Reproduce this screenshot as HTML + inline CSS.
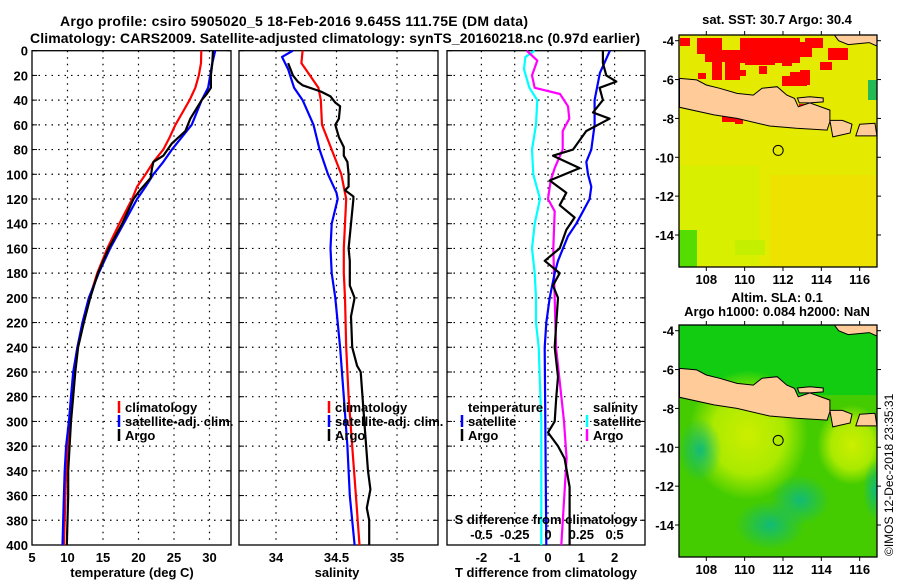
<!DOCTYPE html>
<html><head><meta charset="utf-8">
<style>
html,body{margin:0;padding:0;background:#fff;}
svg{display:block;font-family:"Liberation Sans",sans-serif;}
.t{font-weight:bold;font-size:14px;}
.tk{font-weight:bold;font-size:13px;}
.lg{font-weight:bold;font-size:13px;}
</style></head>
<body>
<svg id="c" width="900" height="580" viewBox="0 0 900 580" xmlns="http://www.w3.org/2000/svg">
<text class="t" x="60" y="26" textLength="468">Argo profile: csiro 5905020_5 18-Feb-2016 9.645S 111.75E (DM data)</text>
<text class="t" x="30" y="43" textLength="610">Climatology: CARS2009. Satellite-adjusted climatology: synTS_20160218.nc (0.97d earlier)</text>
<text class="tk" x="777" y="24" text-anchor="middle">sat. SST: 30.7 Argo: 30.4</text>
<text class="tk" x="777" y="302" text-anchor="middle">Altim. SLA: 0.1</text>
<text class="tk" x="777" y="316" text-anchor="middle">Argo h1000: 0.084 h2000: NaN</text>
<text x="893" y="556" font-size="12" transform="rotate(-90 893 556)">©IMOS 12-Dec-2018 23:35:31</text>
<g id="root"></g>
</svg>
<script>
// ---- data (depth in m) ----
const tempClimDepth=[0,10,20,30,40,50,60,70,80,90,100,110,120,140,160,180,200,220,240,260,280,300,320,340,360,380,400];
const tempClim=[28.85,28.8,28.5,28.0,27.2,26.2,25.2,24.4,23.5,22.1,21.0,19.8,19.1,17.3,15.6,14.2,13.1,12.2,11.4,10.9,10.6,10.3,10.0,9.8,9.7,9.6,9.5];
const tempSatDepth=[0,10,20,30,40,50,60,70,80,90,100,110,120,140,160,180,200,220,240,260,280,300,320,340,360,380,400];
const tempSat=[30.8,30.4,30.1,29.8,28.9,28.2,27.5,26.1,24.7,23.5,22.1,21.0,19.8,17.9,16.0,14.4,13.0,12.1,11.4,10.8,10.5,10.2,9.8,9.6,9.5,9.4,9.3];
const tempArgoDepth=[0,10,20,30,35,40,55,65,75,85,90,95,103,113,120,140,160,180,200,220,240,260,280,300,320,340,360,380,400];
const tempArgo=[30.5,30.4,30.2,30.2,29.6,28.9,27.3,26.6,24.7,23.5,22.1,21.9,21.7,20.2,19.3,17.7,15.8,14.3,13.2,12.3,11.5,11.1,10.8,10.5,10.3,10.1,10.1,10.0,9.9];

const salClimDepth=[0,10,20,30,40,60,80,100,120,160,180,200,240,280,320,360,400];
const salClim=[34.22,34.21,34.28,34.35,34.37,34.38,34.46,34.54,34.58,34.56,34.56,34.57,34.58,34.60,34.63,34.66,34.69];
const salSatDepth=[0,5,15,30,40,60,80,100,115,120,140,160,180,200,220,240,280,320,360,400];
const salSat=[34.14,34.05,34.10,34.15,34.22,34.31,34.36,34.43,34.50,34.51,34.46,34.45,34.46,34.49,34.51,34.53,34.56,34.59,34.61,34.65];
const salArgoDepth=[10,15,20,25,28,33,37,42,45,55,60,70,78,85,90,100,110,113,118,120,140,160,170,190,200,215,240,255,260,300,340,355,370,380,400];
const salArgo=[34.10,34.12,34.14,34.18,34.22,34.37,34.45,34.49,34.53,34.52,34.49,34.52,34.56,34.56,34.59,34.60,34.60,34.57,34.64,34.64,34.62,34.60,34.61,34.61,34.65,34.62,34.63,34.67,34.70,34.73,34.76,34.78,34.75,34.77,34.77];

const dTSatDepth=[0,18,40,60,80,90,100,110,120,130,140,150,160,170,180,200,220,240,300,400];
const dTSat=[1.86,1.56,1.4,1.4,1.3,1.15,1.2,1.3,1.25,1.05,0.85,0.6,0.45,0.3,0.2,0.05,-0.05,-0.1,-0.08,-0.05];
const dTArgoDepth=[0,10,20,25,30,40,50,55,65,80,85,95,105,115,125,135,145,160,170,180,190,200,220,240,264,280,300,309,320,330,353,380,400];
const dTArgo=[1.65,1.65,1.75,2.05,1.55,1.65,1.35,1.85,1.15,0.75,0.15,0.95,0.05,0.55,0.35,0.8,0.55,0.35,-0.1,0.35,0.15,0.3,0.25,0.2,0.3,0.25,0.2,0.0,0.3,0.5,0.65,0.65,0.65];
const dSSatDepth=[0,5,15,30,40,60,80,100,120,140,160,180,200,220,240,300,400];
const dSSat=[-0.1,-0.17,-0.18,-0.14,-0.08,-0.09,-0.12,-0.11,-0.06,-0.1,-0.12,-0.1,-0.09,-0.09,-0.07,-0.05,-0.05];
const dSArgoDepth=[0,8,20,30,35,45,55,65,80,95,105,120,130,160,200,240,260,300,330,400];
const dSArgo=[-0.16,-0.08,-0.12,-0.1,0.09,0.15,0.16,0.11,0.11,0.05,0.02,0.0,0.05,0.04,0.05,0.06,0.08,0.12,0.14,0.1];

const depthTicks=[0,20,40,60,80,100,120,140,160,180,200,220,240,260,280,300,320,340,360,380,400];
const tempTicks=[5,10,15,20,25,30];
const salTicks=[34,34.5,35];
const dTTicks=[-2,-1,0,1,2];
const dSTicks=[-0.5,-0.25,0,0.25,0.5];
const dSTickLabels=["-0.5","-0.25","0","0.25","0.5"];
const lonTicks=[108,110,112,114,116];
const latTicks=[-4,-6,-8,-10,-12,-14];
const argoLon=111.75, argoLat=-9.645;

// ---- helpers ----
const NS="http://www.w3.org/2000/svg";
const root=document.getElementById('root');
function mk(tag,attrs,parent){const e=document.createElementNS(NS,tag);for(const k in attrs)e.setAttribute(k,attrs[k]);(parent||root).appendChild(e);return e;}
const PT=50.7,PB=545;
const yD=d=>PT+(PB-PT)*d/400;
const panels=[
 {x0:32,x1:231,v0:5,v1:5+(231-32)/7.1},
 {x0:239,x1:438,v0:34-(276-239)/121,v1:34+(438-276)/121},
 {x0:447,x1:645,v0:-(548-447)/33.3,v1:(645-548)/33.3}
];
function sx(p,v){return p.x0+(v-p.v0)/(p.v1-p.v0)*(p.x1-p.x0);}
const sS=v=>548+v*133.2;

function frame(p,name,gridVals){
  const g=mk('g',{});
  
  
  depthTicks.forEach(d=>{const y=yD(d);
    if(d>0&&d<400){const l=mk('line',{x1:p.x0,x2:p.x1,y1:y,y2:y,stroke:'#000','stroke-width':1.2,'stroke-dasharray':'1.5,5'},g);
    }
    mk('line',{x1:p.x0,x2:p.x0+5,y1:y,y2:y,stroke:'#000','stroke-width':1},g);
    mk('line',{x1:p.x1-5,x2:p.x1,y1:y,y2:y,stroke:'#000','stroke-width':1},g);});
  gridVals.forEach(v=>{const x=sx(p,v);
    const l=mk('line',{x1:x,x2:x,y1:PT,y2:PB,stroke:'#000','stroke-width':1.2,'stroke-dasharray':'1.5,5'},g);
    });
  mk('rect',{x:p.x0,y:PT,width:p.x1-p.x0,height:PB-PT,fill:'none',stroke:'#000','stroke-width':1.3},g);
  return g;
}
function line(p,ds,vs,color,name,fx){
  const f=fx||(v=>sx(p,v));
  const pts=ds.map((d,i)=>f(vs[i]).toFixed(1)+','+yD(d).toFixed(1)).join(' ');
  const e=mk('polyline',{points:pts,fill:'none',stroke:color,'stroke-width':2.2,'stroke-linejoin':'round'});
  
  
}
function txt(x,y,s,anchor,cls,name){const e=mk('text',{x:x,y:y,'text-anchor':anchor||'start',class:cls||'tk'});e.textContent=s;
  
  return e;}
function legend(x,y,items,name){
  items.forEach((it,i)=>{const yy=y+i*14;
    const m=mk('line',{x1:x,x2:x,y1:yy-11,y2:yy+1,stroke:it[0],'stroke-width':2.5});
    
    
    txt(x+6,yy,it[1],'start','lg',name+'-entry');});
}

// panel 1 temperature
frame(panels[0],'temperature-panel',[10,15,20,25,30]);
depthTicks.forEach(d=>txt(28,yD(d)+5,String(d),'end','tk','depth-tick-label'));
tempTicks.forEach(v=>txt(sx(panels[0],v),562,String(v),'middle','tk','temperature-tick-label'));
txt(132,577,'temperature (deg C)','middle','tk','temperature-axis-title');
line(panels[0],tempClimDepth,tempClim,'#f00','temp-climatology-line');
line(panels[0],tempSatDepth,tempSat,'#00f','temp-satellite-line');
line(panels[0],tempArgoDepth,tempArgo,'#000','temp-argo-line');
legend(119,412,[['#f00','climatology'],['#00f','satellite-adj. clim.'],['#000','Argo']],'temp-legend');

// panel 2 salinity
frame(panels[1],'salinity-panel',[34,34.5,35]);
salTicks.forEach(v=>txt(sx(panels[1],v),562,String(v),'middle','tk','salinity-tick-label'));
txt(337,577,'salinity','middle','tk','salinity-axis-title');
line(panels[1],salClimDepth,salClim,'#f00','sal-climatology-line');
line(panels[1],salSatDepth,salSat,'#00f','sal-satellite-line');
line(panels[1],salArgoDepth,salArgo,'#000','sal-argo-line');
legend(329,412,[['#f00','climatology'],['#00f','satellite-adj. clim.'],['#000','Argo']],'sal-legend');

// panel 3 differences
frame(panels[2],'difference-panel',[-2,-1,0,1,2]);
dTTicks.forEach(v=>txt(sx(panels[2],v),562,String(v),'middle','tk','t-diff-tick-label'));
txt(546,577,'T difference from climatology','middle','tk','t-diff-axis-title');
line(panels[2],dSSatDepth,dSSat,'#0ff','s-diff-satellite-line',sS);
line(panels[2],dSArgoDepth,dSArgo,'#f0f','s-diff-argo-line',sS);
line(panels[2],dTSatDepth,dTSat,'#00f','t-diff-satellite-line');
line(panels[2],dTArgoDepth,dTArgo,'#000','t-diff-argo-line');
txt(546,524,'S difference from climatology','middle','tk','s-diff-axis-title');
dSTicks.forEach((v,i)=>txt(sS(v),539,dSTickLabels[i],'middle','tk','s-diff-tick-label'));
txt(468,412,'temperature','start','lg','t-legend-title');
legend(462,426,[['#00f','satellite'],['#000','Argo']],'t-diff-legend');
txt(593,412,'salinity','start','lg','s-legend-title');
legend(587,426,[['#0ff','satellite'],['#f0f','Argo']],'s-diff-legend');

// ---- maps ----
const MX0=679,MX1=877;
const mLon=lon=>706.3+(lon-108)*19.17;
const mLat=(lat,off)=>40.7+off+(-4-lat)*19.43;
const java=[[106.6,-5.94],[107.5,-6.02],[108.0,-6.28],[108.7,-6.45],[109.6,-6.71],[110.45,-6.8],[110.9,-6.45],[111.7,-6.37],[112.2,-6.8],[112.6,-6.97],[112.8,-7.4],[113.4,-7.2],[114.45,-7.57],[114.45,-8.17],[114.3,-8.6],[112.7,-8.51],[111.3,-8.39],[109.6,-8.0],[108.4,-7.82],[106.6,-7.43]];
const madura=[[112.75,-6.95],[113.4,-6.88],[114.1,-6.95],[114.1,-7.15],[113.4,-7.2],[112.85,-7.2]];
const bali=[[114.45,-8.1],[115.1,-8.1],[115.6,-8.3],[115.5,-8.75],[114.6,-8.95]];
const lombok=[[116.0,-8.3],[116.8,-8.25],[116.9,-8.9],[115.8,-8.9]];
const kal=[[114.6,-3.6],[116.95,-3.6],[116.95,-4.3],[116.5,-4.1],[115.4,-4.2],[114.9,-4.0]];
function poly(list,off,name,g){
  const e=mk('polygon',{points:list.map(p=>mLon(p[0]).toFixed(1)+','+mLat(p[1],off).toFixed(1)).join(' '),fill:'#ffcc99',stroke:'#000','stroke-width':1},g);
  
  
}
function map(off,name,kind){
  const g=mk('g',{});
  
  
  const top=35+off,bot=267+off;
  const defs=mk('defs',{},g);
  const cp=mk('clipPath',{id:'cp'+off},defs);
  mk('rect',{x:MX0,y:top,width:MX1-MX0,height:bot-top},cp);
  const cg=mk('g',{'clip-path':'url(#cp'+off+')'},g);
  if(kind==='sst'){
    mk('rect',{x:MX0,y:top,width:MX1-MX0,height:bot-top,fill:'#e4ea00'},cg);
    mk('rect',{x:MX0,y:top+130,width:80,height:100,fill:'#d4f000',opacity:0.8},cg);
    mk('rect',{x:770,y:top+140,width:107,height:92,fill:'#f0e000',opacity:0.8},cg);
    mk('rect',{x:MX0,y:top+195,width:18,height:37,fill:'#55dd00'},cg);
    mk('rect',{x:735,y:top+205,width:30,height:15,fill:'#c4f000'},cg);
    mk('rect',{x:868,y:top+45,width:9,height:20,fill:'#22bb55'},cg);
    const reds=[[680,38,10,8],[697,38,25,16],[705,50,35,12],[712,60,10,20],[725,62,15,18],[740,38,60,25],[745,55,30,10],[790,42,22,15],[782,58,10,8],[805,38,18,10],[828,48,20,12],[820,62,12,8],[790,72,12,10],[782,76,25,10],[800,70,10,15],[740,70,6,6],[759,66,8,8],[698,73,8,6],[799,104,14,6],[722,116,15,6],[735,119,8,5]];
    reds.forEach(r=>mk('rect',{x:r[0],y:r[1]+off,width:r[2],height:r[3],fill:'#ff0000'},cg));
  } else {
    const gr=mk('radialGradient',{id:'y1',cx:'0.5',cy:'0.5',r:'0.5'},defs);
    mk('stop',{offset:'0','stop-color':'#ccee00'},gr);mk('stop',{offset:'0.6','stop-color':'#aaea00'},gr);mk('stop',{offset:'1','stop-color':'#aaea00','stop-opacity':0},gr);
    const gt=mk('radialGradient',{id:'t1',cx:'0.5',cy:'0.5',r:'0.5'},defs);
    mk('stop',{offset:'0','stop-color':'#11bb77'},gt);mk('stop',{offset:'1','stop-color':'#11bb77','stop-opacity':0},gt);
    mk('rect',{x:MX0,y:top,width:MX1-MX0,height:bot-top,fill:'#44cc00'},cg);
    mk('rect',{x:MX0,y:top,width:MX1-MX0,height:70,fill:'#11cc11'},cg);
    mk('ellipse',{cx:748,cy:435,rx:60,ry:65,fill:'url(#y1)'},cg);
    mk('ellipse',{cx:852,cy:445,rx:35,ry:40,fill:'url(#y1)'},cg);
    mk('ellipse',{cx:700,cy:450,rx:22,ry:32,fill:'url(#t1)'},cg);
    mk('ellipse',{cx:770,cy:525,rx:35,ry:25,fill:'url(#t1)'},cg);
    mk('ellipse',{cx:800,cy:500,rx:30,ry:25,fill:'url(#t1)'},cg);
    mk('ellipse',{cx:875,cy:490,rx:12,ry:30,fill:'url(#t1)'},cg);
  }
  poly(java,off,'java-land',cg);poly(madura,off,'madura-land',cg);poly(bali,off,'bali-land',cg);poly(lombok,off,'lombok-land',cg);poly(kal,off,'kalimantan-land',cg);
  const m=mk('circle',{cx:mLon(argoLon),cy:mLat(argoLat,off),r:5,fill:'none',stroke:'#000','stroke-width':1},g);
  
  
  mk('rect',{x:MX0,y:top,width:MX1-MX0,height:bot-top,fill:'none',stroke:'#000','stroke-width':1.3},g);
  lonTicks.forEach(l=>{const x=mLon(l);
    mk('line',{x1:x,x2:x,y1:top-4,y2:top,stroke:'#000'},g);
    mk('line',{x1:x,x2:x,y1:bot,y2:bot+4,stroke:'#000'},g);
    txt(x,bot+17,String(l),'middle','tk','lon-tick-label');});
  latTicks.forEach(l=>{const y=mLat(l,off);
    mk('line',{x1:MX0-4,x2:MX0,y1:y,y2:y,stroke:'#000'},g);
    mk('line',{x1:MX1,x2:MX1+4,y1:y,y2:y,stroke:'#000'},g);
    txt(MX0-5,y+5,String(l),'end','tk','lat-tick-label');});
}
map(0,'sst-map','sst');
map(290,'sla-map','sla');
</script>
</body></html>
